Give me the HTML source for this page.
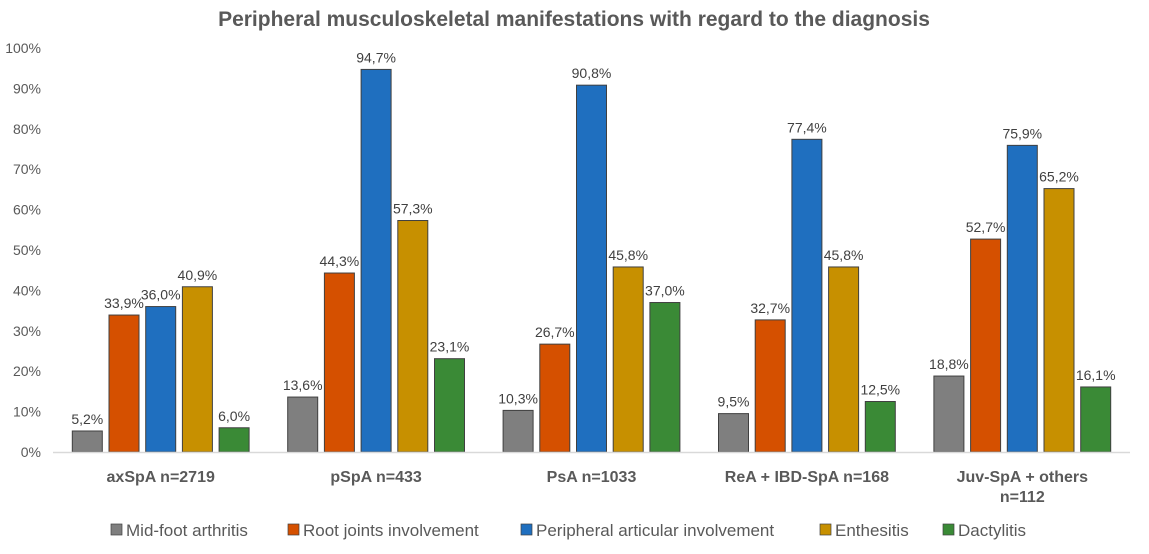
<!DOCTYPE html>
<html><head><meta charset="utf-8"><style>
body{margin:0;background:#fff;width:1149px;height:549px;overflow:hidden;font-family:"Liberation Sans",sans-serif}
</style></head><body>
<svg id="chart" width="1149" height="549" xmlns="http://www.w3.org/2000/svg" font-family="Liberation Sans, sans-serif">
<text x="574" y="26" text-anchor="middle" font-size="21" font-weight="bold" fill="#595959">Peripheral musculoskeletal manifestations with regard to the diagnosis</text>
<g id="yaxis"></g><g id="bars"></g><g id="xaxis"></g><g id="legend"></g>
</svg>
<script>
const categories=[["axSpA n=2719"],["pSpA n=433"],["PsA n=1033"],["ReA + IBD-SpA n=168"],["Juv-SpA + others","n=112"]];
const seriesNames=["Mid-foot arthritis","Root joints involvement","Peripheral articular involvement","Enthesitis","Dactylitis"];
const midFoot=[5.2,13.6,10.3,9.5,18.8];
const rootJoints=[33.9,44.3,26.7,32.7,52.7];
const peripheral=[36.0,94.7,90.8,77.4,75.9];
const enthesitis=[40.9,57.3,45.8,45.8,65.2];
const dactylitis=[6.0,23.1,37.0,12.5,16.1];
const yTicks=[0,10,20,30,40,50,60,70,80,90,100];
const series=[midFoot,rootJoints,peripheral,enthesitis,dactylitis];
const colors=["#7f7f7f","#d55000","#1f6fbf","#c79000","#3a8a36"];
const NS="http://www.w3.org/2000/svg";
const x0=53,x1=1130,y0=452,y100=48;
const y=v=>y0+(y100-y0)*v/100;
const gw=(x1-x0)/categories.length;
const gc=i=>x0+gw*(i+0.5);
const pitch=36.7,bw=30;
function mk(tag,attrs,parent,text){const e=document.createElementNS(NS,tag);for(const k in attrs)e.setAttribute(k,attrs[k]);if(text!==undefined)e.textContent=text;parent.appendChild(e);return e;}
const ya=document.getElementById('yaxis');
yTicks.forEach(t=>{const e=mk('text',{x:41,y:y(t)+5,'text-anchor':'end','font-size':14,fill:'#595959'},ya,t+'%');

});
const bars=document.getElementById('bars');
series.forEach((s,si)=>{s.forEach((v,ci)=>{const cx=gc(ci)+(si-2)*pitch;
const r=mk('rect',{x:cx-bw/2,y:y(v),width:bw,height:y0-y(v),fill:colors[si],stroke:'#404040','stroke-width':1},bars);


const l=mk('text',{x:cx,y:y(v)-7,'text-anchor':'middle','font-size':14,fill:'#404040'},bars,v.toFixed(1).replace('.',',')+'%');

});});
const xa=document.getElementById('xaxis');
const ax=mk('line',{x1:x0,x2:x1,y1:y0+0.5,y2:y0+0.5,stroke:'#d9d9d9','stroke-width':1.5},xa);


categories.forEach((c,i)=>{c.forEach((line,li)=>{const t=mk('text',{x:gc(i),y:482+li*20,'text-anchor':'middle','font-size':16,'font-weight':'bold',fill:'#595959'},xa,line);

});});
const lg=document.getElementById('legend');
const lx=[111,288,521,820,943];
seriesNames.forEach((n,i)=>{const g=mk('g',{},lg);


mk('rect',{x:lx[i],y:524,width:11,height:11,fill:colors[i],stroke:'#404040','stroke-width':0.7},g);
mk('text',{x:lx[i]+15,y:536,'font-size':17,fill:'#595959'},g,n);});
</script>
</body></html>
